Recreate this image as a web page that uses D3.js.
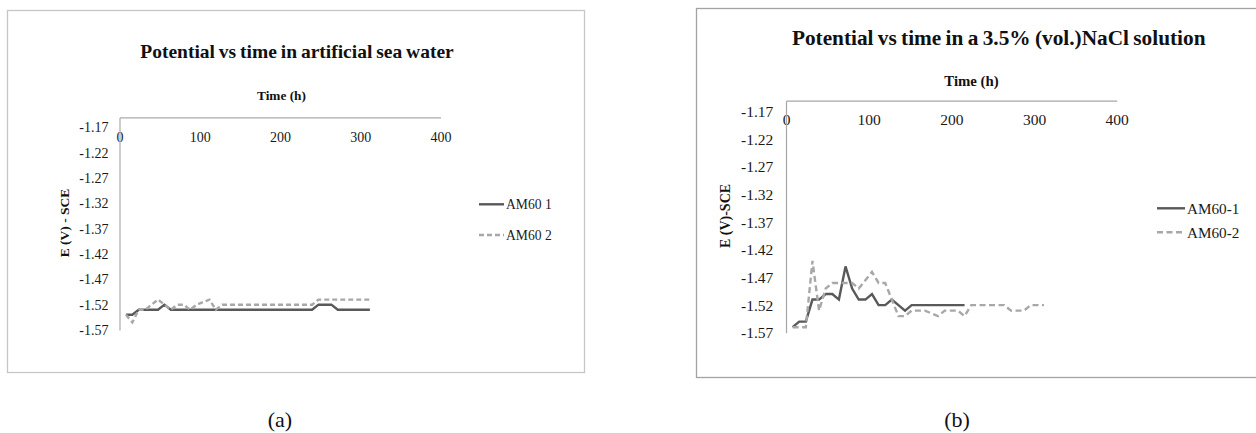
<!DOCTYPE html>
<html>
<head>
<meta charset="utf-8">
<script src="https://cdn.jsdelivr.net/npm/d3@7"></script>
<style>
  html, body { margin: 0; padding: 0; background: #fff; }
  svg { display: block; }
  text { font-family: "Liberation Serif", "Times New Roman", serif; }
</style>
</head>
<body>
<svg id="chart" width="1256" height="433"></svg>
<script>
// Open-circuit potential readings of AM60 samples (every 8 h)
const yTickValues = [-1.17, -1.22, -1.27, -1.32, -1.37, -1.42, -1.47, -1.52, -1.57];
const xTickValues = [0, 100, 200, 300, 400];

// (a) artificial sea water
const seaTimes1 = [8, 16, 24, 32, 40, 48, 56, 64, 72, 80, 88, 96, 104, 112, 120, 128, 136, 144, 152, 160,
  168, 176, 184, 192, 200, 208, 216, 224, 232, 240, 248, 256, 264, 272, 280, 288, 296, 304, 312];
const seaAM60_1 = [-1.54, -1.54, -1.53, -1.53, -1.53, -1.53, -1.52, -1.53, -1.53, -1.53, -1.53, -1.53, -1.53, -1.53, -1.53, -1.53, -1.53, -1.53, -1.53, -1.53,
  -1.53, -1.53, -1.53, -1.53, -1.53, -1.53, -1.53, -1.53, -1.53, -1.53, -1.52, -1.52, -1.52, -1.53, -1.53, -1.53, -1.53, -1.53, -1.53];
const seaTimes2 = [8, 16, 24, 32, 40, 48, 56, 64, 72, 80, 88, 96, 104, 112, 120, 128, 136, 144, 152, 160,
  168, 176, 184, 192, 200, 208, 216, 224, 232, 240, 248, 256, 264, 272, 280, 288, 296, 304, 312];
const seaAM60_2 = [-1.54, -1.555, -1.53, -1.53, -1.52, -1.51, -1.52, -1.53, -1.52, -1.52, -1.53, -1.52, -1.515, -1.51, -1.53, -1.52, -1.52, -1.52, -1.52, -1.52,
  -1.52, -1.52, -1.52, -1.52, -1.52, -1.52, -1.52, -1.52, -1.52, -1.52, -1.51, -1.51, -1.51, -1.51, -1.51, -1.51, -1.51, -1.51, -1.51];

// (b) 3.5 % NaCl solution
const naclTimes1 = [8, 16, 24, 32, 40, 48, 56, 64, 72, 80, 88, 96, 104, 112, 120, 128, 136, 144, 152, 160,
  168, 176, 184, 192, 200, 208, 216];
const naclAM60_1 = [-1.56, -1.55, -1.55, -1.51, -1.51, -1.50, -1.50, -1.51, -1.45, -1.49, -1.51, -1.51, -1.50, -1.52, -1.52, -1.51, -1.52, -1.53, -1.52, -1.52,
  -1.52, -1.52, -1.52, -1.52, -1.52, -1.52, -1.52];
const naclTimes2 = [8, 16, 24, 32, 40, 48, 56, 64, 72, 80, 88, 96, 104, 112, 120, 128, 136, 144, 152, 160,
  168, 176, 184, 192, 200, 208, 216, 224, 232, 240, 248, 256, 264, 272, 280, 288, 296, 304, 312];
const naclAM60_2 = [-1.56, -1.56, -1.56, -1.44, -1.53, -1.49, -1.48, -1.48, -1.48, -1.48, -1.49, -1.475, -1.46, -1.48, -1.48, -1.51, -1.54, -1.54, -1.53, -1.53,
  -1.53, -1.535, -1.54, -1.53, -1.53, -1.53, -1.54, -1.52, -1.52, -1.52, -1.52, -1.52, -1.52, -1.53, -1.53, -1.53, -1.52, -1.52, -1.52];

const svg = d3.select("#chart");
const SERIF = '"Liberation Serif", "Times New Roman", serif';

function drawPanel(p) {
  const g = svg.append("g");

  g.append("rect")
    .attr("x", p.frame[0]).attr("y", p.frame[1])
    .attr("width", p.frame[2]).attr("height", p.frame[3])
    .attr("fill", "#fff").attr("stroke", p.frameColor).attr("stroke-width", 1.3);

  const x = d3.scaleLinear().domain([0, 400]).range([p.left, p.right]);
  const y = d3.scaleLinear().domain([-1.57, -1.15]).range([p.bottom, p.top]);

  // title
  g.append("text")
    .attr("x", p.titleX).attr("y", p.titleY)
    .attr("text-anchor", "middle")
    .style("font-size", p.titleSize + "px").style("font-weight", "bold")
    .attr("word-spacing", "-1px")
    .attr("fill", "#111")
    .text(p.title);

  // x axis: line along the top of the plot, labels beneath it
  const xAxis = g.append("g")
    .attr("transform", `translate(0,${p.top})`)
    .call(d3.axisBottom(x).tickValues(xTickValues).tickSize(0).tickPadding(p.xPad).tickFormat(d3.format("d")));
  xAxis.select(".domain").attr("stroke", p.axisColor).attr("stroke-width", 1.2);
  xAxis.selectAll("text")
    .style("font-family", SERIF).style("font-size", p.tickSize + "px").attr("fill", "#1a1a1a");

  // y axis
  const yAxis = g.append("g")
    .attr("transform", `translate(${p.left},0)`)
    .call(d3.axisLeft(y).tickValues(yTickValues).tickSize(0).tickPadding(p.yPad).tickFormat(d => d.toFixed(2)));
  yAxis.select(".domain").attr("stroke", p.axisColor).attr("stroke-width", 1.2);
  yAxis.selectAll("text")
    .style("font-family", SERIF).style("font-size", p.tickSize + "px").attr("fill", "#1a1a1a");

  // axis titles
  g.append("text")
    .attr("x", p.xTitleX).attr("y", p.xTitleY)
    .attr("text-anchor", "middle")
    .style("font-size", p.axisTitleSize + "px").style("font-weight", "bold").attr("fill", "#111")
    .text("Time (h)");
  g.append("text")
    .attr("transform", `translate(${p.yTitleX},${p.yTitleY}) rotate(-90)`)
    .attr("text-anchor", "middle").attr("dominant-baseline", "central")
    .style("font-size", p.yTitleSize + "px").style("font-weight", "bold").attr("fill", "#111")
    .text(p.yTitle);

  // series
  const line = d3.line().x(d => x(d[0])).y(d => y(d[1]));
  p.series.forEach(s => {
    const pts = d3.zip(s.times, s.values);
    g.append("path")
      .datum(pts)
      .attr("fill", "none")
      .attr("stroke", s.color)
      .attr("stroke-width", 2.4)
      .attr("stroke-linejoin", "miter")
      .attr("stroke-dasharray", s.dash || null)
      .attr("d", line);
  });

  // legend
  p.series.forEach((s, i) => {
    const ly = p.legendY[i];
    g.append("line")
      .attr("x1", p.legendX[0]).attr("x2", p.legendX[1])
      .attr("y1", ly).attr("y2", ly)
      .attr("stroke", s.color).attr("stroke-width", 2.4)
      .attr("stroke-dasharray", s.dash || null);
    g.append("text")
      .attr("x", p.legendX[1] + 2).attr("y", ly)
      .attr("dominant-baseline", "central")
      .style("font-size", p.legendSize + "px").attr("fill", "#1a1a1a")
      .text(s.name);
  });

  // caption
  svg.append("text")
    .attr("x", p.captionX).attr("y", 427)
    .attr("text-anchor", "middle")
    .style("font-size", "22px").attr("fill", "#111")
    .text(p.caption);
}

drawPanel({
  frame: [7.5, 10.5, 577, 362], frameColor: "#c6c6c6", axisColor: "#ababab",
  left: 119.5, right: 440.5, top: 117.3, bottom: 330,
  title: "Potential vs time in artificial sea water", titleX: 297, titleY: 58, titleSize: 19.5,
  xTitleX: 281.5, xTitleY: 99.5, axisTitleSize: 13.3,
  yTitle: "E (V) - SCE", yTitleX: 64, yTitleY: 223, yTitleSize: 13.5,
  tickSize: 14, xPad: 14.5, yPad: 11,
  legendX: [479, 504], legendY: [204.3, 235], legendSize: 13.6,
  caption: "(a)", captionX: 280,
  series: [
    { name: "AM60 1", times: seaTimes1, values: seaAM60_1, color: "#595959" },
    { name: "AM60 2", times: seaTimes2, values: seaAM60_2, color: "#a8a8a8", dash: "5,3" }
  ]
});

drawPanel({
  frame: [696.5, 8.5, 600, 369], frameColor: "#a3a3a3", axisColor: "#a6a6a6",
  left: 786, right: 1116.7, top: 100.7, bottom: 332.7,
  title: "Potential vs time in a 3.5% (vol.)NaCl solution", titleX: 998.7, titleY: 45, titleSize: 21.3,
  xTitleX: 971.5, xTitleY: 86, axisTitleSize: 14.8,
  yTitle: "E (V)-SCE", yTitleX: 725, yTitleY: 216, yTitleSize: 14,
  tickSize: 15.5, xPad: 13.3, yPad: 12.7,
  legendX: [1157, 1185], legendY: [208.3, 232.3], legendSize: 15.2,
  caption: "(b)", captionX: 957,
  series: [
    { name: "AM60-1", times: naclTimes1, values: naclAM60_1, color: "#595959" },
    { name: "AM60-2", times: naclTimes2, values: naclAM60_2, color: "#a8a8a8", dash: "6,3.5" }
  ]
});
</script>
</body>
</html>
